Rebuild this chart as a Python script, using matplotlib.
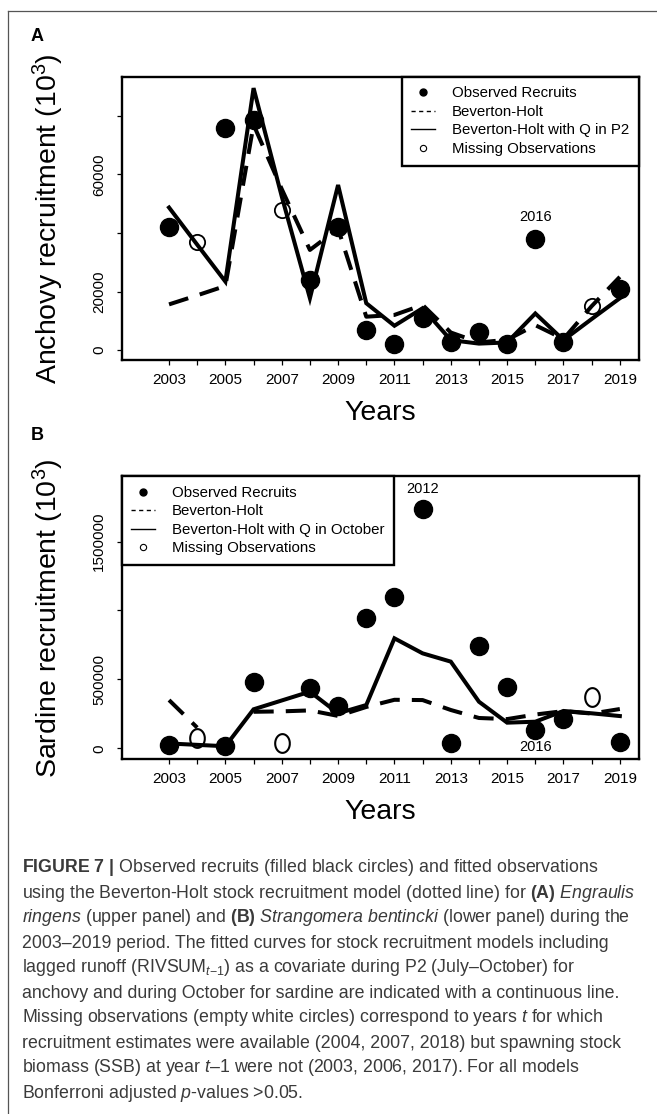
import numpy as np
import matplotlib
matplotlib.use('Agg')
import matplotlib.pyplot as plt
from matplotlib.lines import Line2D
from matplotlib.path import Path

plt.rcParams['font.family'] = ['Liberation Sans', 'DejaVu Sans']
plt.rcParams['mathtext.fontset'] = 'custom'
plt.rcParams['mathtext.rm'] = 'Liberation Sans'
plt.rcParams['mathtext.it'] = 'Liberation Sans:italic'
plt.rcParams['mathtext.bf'] = 'Liberation Sans:bold'

nan = np.nan
years = list(range(2003, 2020))
year_labels = [str(y) if y % 2 == 1 else '' for y in years]

# ---- Panel A: anchovy ----
anch_obs = [42000, nan, 76000, 78500, nan, 24000, 42000, 7000, 2000, 11000,
            2800, 6300, 2000, 38000, 2800, nan, 21000]
anch_missing = [nan, 37000, nan, nan, 48000, nan, nan, nan, nan, nan,
                nan, nan, nan, nan, nan, 15000, nan]
anch_bh = [15600, 18700, 21900, 77000, 55000, 34200, 41500, 11400, 12000, 15400,
           6000, 2600, 3500, 8500, 3800, 15000, 25000]
anch_bhq = [48700, 36000, 23400, 89500, 52500, 17700, 56400, 16000, 8300, 14300,
            3400, 2200, 2600, 12500, 3400, 10600, 17700]
anch_yticks = [0, 20000, 40000, 60000, 80000]
anch_ylabels = ['0', '20000', '', '60000', '']
anch_legend = ['Observed Recruits', 'Beverton-Holt', 'Beverton-Holt with Q in P2',
               'Missing Observations']

# ---- Panel B: sardine ----
sard_obs = [25000, nan, 20000, 479000, nan, 440000, 307000, 943000, 1100000, 1737000,
            36000, 742000, 443000, 133000, 210000, nan, 44000]
sard_missing = [nan, 73000, nan, nan, 36000, nan, nan, nan, nan, nan,
                nan, nan, nan, nan, nan, 374000, nan]
sard_bh = [350000, 150000, nan, 265000, 268000, 275000, 235000, 300000, 352000, 350000,
           278000, 220000, 212000, 245000, 270000, 252000, 285000]
sard_bhq = [35000, 25000, 15000, 283000, 347000, 411000, 254000, 314000, 798000, 689000,
            629000, 338000, 186000, 193000, 271000, 254000, 234000]
sard_yticks = [0, 500000, 1000000, 1500000]
sard_ylabels = ['0', '500000', '', '1500000']
sard_legend = ['Observed Recruits', 'Beverton-Holt', 'Beverton-Holt with Q in October',
               'Missing Observations']

caption_lines = [
    r'$\mathbf{FIGURE\ 7\ |}$ Observed recruits (filled black circles) and fitted observations',
    r'using the Beverton-Holt stock recruitment model (dotted line) for $\mathbf{(A)}$ $\mathit{Engraulis}$',
    r'$\mathit{ringens}$ (upper panel) and $\mathbf{(B)}$ $\mathit{Strangomera\ bentincki}$ (lower panel) during the',
    '2003–2019 period. The fitted curves for stock recruitment models including',
    r'lagged runoff (RIVSUM$_{\mathit{t}\mathrm{-}1}$) as a covariate during P2 (July–October) for',
    'anchovy and during October for sardine are indicated with a continuous line.',
    r'Missing observations (empty white circles) correspond to years $\mathit{t}$ for which',
    'recruitment estimates were available (2004, 2007, 2018) but spawning stock',
    r'biomass (SSB) at year $\mathit{t}$–$\mathit{1}$ were not (2003, 2006, 2017). For all models',
    r'Bonferroni adjusted $\mathit{p}$-values >0.05.',
]

W, H = 657, 1114
fig = plt.figure(figsize=(W / 100, H / 100), dpi=100)

# ellipse "O" marker for panel B missing observations
t = np.linspace(0, 2 * np.pi, 64)
o_marker = Path(np.column_stack([0.78 * np.cos(t), np.sin(t)]))


def panel(ax, obs, missing, bh, bhq, ylim, yticks, ylabels, leg_labels, leg_loc,
          miss_marker, miss_ms, miss_mew):
    ax.plot(years, bh, color='k', lw=2.9, dashes=(5, 3), zorder=2)
    ax.plot(years, bhq, color='k', lw=2.9, solid_joinstyle='miter', zorder=2)
    ax.plot(years, obs, ls='none', marker='o', ms=13, color='k', zorder=3)
    ax.plot(years, missing, ls='none', marker=miss_marker, ms=miss_ms, mfc='none',
            mec='k', mew=miss_mew, zorder=3)
    ax.set_xlim(2001.32, 2019.68)
    ax.set_ylim(*ylim)
    ax.set_xticks(years)
    ax.set_xticklabels(year_labels)
    ax.set_yticks(yticks)
    ax.set_yticklabels(ylabels)
    plt.setp(ax.get_yticklabels(), rotation=90, va='center')
    ax.tick_params(axis='both', direction='out', length=3.6, width=0.9, labelsize=11)
    ax.tick_params(axis='x', pad=5.5)
    ax.tick_params(axis='y', pad=7.5)
    for s in ax.spines.values():
        s.set_linewidth(1.7)
    handles = [
        Line2D([], [], ls='none', marker='o', color='k', ms=5),
        Line2D([], [], color='k', lw=1, dashes=(3, 2.5)),
        Line2D([], [], color='k', lw=1),
        Line2D([], [], ls='none', marker='o', mfc='none', mec='k', ms=4.5, mew=0.8),
    ]
    leg = ax.legend(handles, leg_labels, loc=leg_loc, borderaxespad=0, frameon=True,
                    fancybox=False, edgecolor='k', framealpha=1, fontsize=10.8,
                    handlelength=1.6, handletextpad=1.1, labelspacing=0.3, borderpad=0.65)
    leg.get_frame().set_linewidth(1.7)


axA = fig.add_axes([121.7 / W, 1 - 360 / H, (639 - 121.7) / W, (360 - 76.7) / H])
panel(axA, anch_obs, anch_missing, anch_bh, anch_bhq, (-3400, 93400), anch_yticks,
      anch_ylabels, anch_legend, 'upper right', 'o', 11, 1.3)
axA.text(2016, 45600, '2016', ha='center', va='center', fontsize=10.5)

axB = fig.add_axes([121.7 / W, 1 - 759.3 / H, (639 - 121.7) / W, (759.3 - 476) / H])
panel(axB, sard_obs, sard_missing, sard_bh, sard_bhq, (-79800, 1976000), sard_yticks,
      sard_ylabels, sard_legend, 'upper left', o_marker, 13.5, 1.5)
axB.text(2012, 1880000, '2012', ha='center', va='center', fontsize=10.5)
axB.text(2016, 10000, '2016', ha='center', va='center', fontsize=10.5)

# axis titles
fig.text(48 / W, 1 - 218.4 / H, 'Anchovy recruitment (10$^3$)', rotation=90,
         ha='center', va='center', fontsize=20.5)
fig.text(48 / W, 1 - 617.7 / H, 'Sardine recruitment (10$^3$)', rotation=90,
         ha='center', va='center', fontsize=20.5)
fig.text(380.4 / W, 1 - 420 / H, 'Years', ha='center', va='baseline', fontsize=20.5)
fig.text(380.4 / W, 1 - 819.3 / H, 'Years', ha='center', va='baseline', fontsize=20.5)
fig.text(37.5 / W, 1 - 36.5 / H, 'A', ha='center', va='center', fontsize=13, fontweight='bold')
fig.text(37.5 / W, 1 - 436 / H, 'B', ha='center', va='center', fontsize=13, fontweight='bold')

# caption
for i, line in enumerate(caption_lines):
    fig.text(22 / W, 1 - (868 + 25 * i) / H, line, ha='left', va='center',
             fontsize=12.8, color='#3a3a3a')

# outer frame (left and top)
fig.add_artist(Line2D([8 / W, 8 / W], [0, 1 - 10.7 / H], transform=fig.transFigure,
                      color='#555555', lw=0.9))
fig.add_artist(Line2D([8 / W, 1], [1 - 10.7 / H, 1 - 10.7 / H], transform=fig.transFigure,
                      color='#555555', lw=0.9))

fig.savefig('out.png', dpi=100)
